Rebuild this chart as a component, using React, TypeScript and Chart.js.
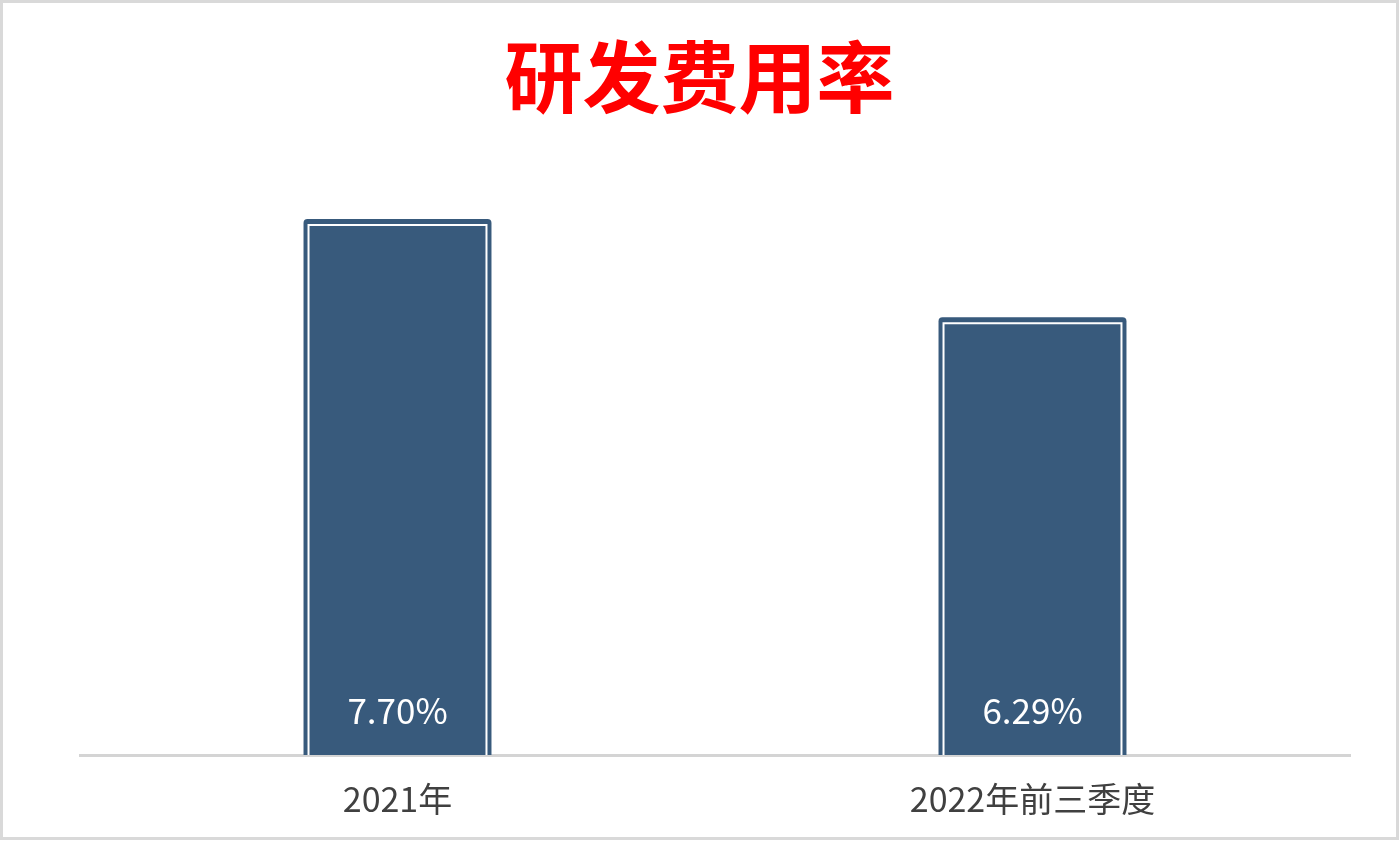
import { useEffect, useRef } from 'react'
import { Chart, registerables } from 'chart.js'

Chart.register(...registerables)

const categories = ['2021年', '2022年前三季度']
const rdRates = [7.7, 6.29]
const chartTitle = '研发费用率'

const barColor = '#385a7c'
const fontFamily = '"Noto Sans CJK SC", "Noto Sans", sans-serif'

// white inner outline + value label drawn on top of each bar
const barDecor = {
  id: 'barDecor',
  afterDatasetsDraw(chart: Chart) {
    const { ctx } = chart
    const meta = chart.getDatasetMeta(0)
    ctx.save()
    meta.data.forEach((bar: any, i: number) => {
      const { x, y, base, width } = bar.getProps(['x', 'y', 'base', 'width'], true)
      const left = x - width / 2 + 5
      const right = x + width / 2 - 5
      const top = y + 6
      ctx.strokeStyle = '#ffffff'
      ctx.lineWidth = 2
      ctx.beginPath()
      ctx.moveTo(left, base)
      ctx.lineTo(left, top)
      ctx.lineTo(right, top)
      ctx.lineTo(right, base)
      ctx.stroke()

      ctx.fillStyle = '#ffffff'
      ctx.font = `35px ${fontFamily}`
      ctx.textAlign = 'center'
      ctx.textBaseline = 'middle'
      ctx.fillText(rdRates[i].toFixed(2) + '%', x, base - 44)
    })
    ctx.restore()
  },
}

export default function App() {
  const chartRef = useRef<HTMLCanvasElement>(null)
  const chartInstanceRef = useRef<Chart | null>(null)

  useEffect(() => {
    if (!chartRef.current) return
    if (chartInstanceRef.current) chartInstanceRef.current.destroy()

    chartInstanceRef.current = new Chart(chartRef.current, {
      type: 'bar',
      data: {
        labels: categories,
        datasets: [
          {
            label: chartTitle,
            data: rdRates,
            backgroundColor: barColor,
            borderColor: barColor,
            borderWidth: 0,
            borderRadius: { topLeft: 4, topRight: 4, bottomLeft: 0, bottomRight: 0 },
            borderSkipped: 'bottom',
            barPercentage: 0.296,
            categoryPercentage: 1,
          },
        ],
      },
      plugins: [barDecor],
      options: {
        responsive: true,
        maintainAspectRatio: false,
        animation: false,
        plugins: {
          legend: { display: false },
          tooltip: { enabled: false },
          title: {
            display: true,
            text: chartTitle,
            color: '#ff0000',
            font: { family: fontFamily, size: 78, weight: 'bold', lineHeight: 1.2 },
            padding: { top: 28, bottom: 4 },
          },
        },
        scales: {
          x: {
            z: 1,
            grid: { display: false },
            border: { display: true, color: '#d4d4d4', width: 3 },
            ticks: {
              color: '#404040',
              padding: 16,
              font: { family: fontFamily, size: 34 },
            },
            afterFit: (scale: any) => {
              scale.height = 82
            },
          },
          y: {
            position: 'left',
            min: 0,
            max: 9,
            grid: { display: false },
            border: { display: false },
            ticks: { display: false },
            afterFit: (scale: any) => {
              scale.width = 77
            },
          },
          yRight: {
            position: 'right',
            min: 0,
            max: 9,
            grid: { display: false },
            border: { display: false },
            ticks: { display: false },
            afterFit: (scale: any) => {
              scale.width = 46
            },
          },
        },
      },
    })

    return () => {
      if (chartInstanceRef.current) {
        chartInstanceRef.current.destroy()
        chartInstanceRef.current = null
      }
    }
  }, [])

  return (
    <div
      style={{
        position: 'absolute',
        left: 0,
        top: 0,
        width: 1399,
        height: 840,
        boxSizing: 'border-box',
        border: '3px solid #d9d9d9',
        background: '#ffffff',
      }}
    >
      <div style={{ position: 'relative', width: '100%', height: '100%' }}>
        <canvas ref={chartRef}></canvas>
      </div>
    </div>
  )
}
